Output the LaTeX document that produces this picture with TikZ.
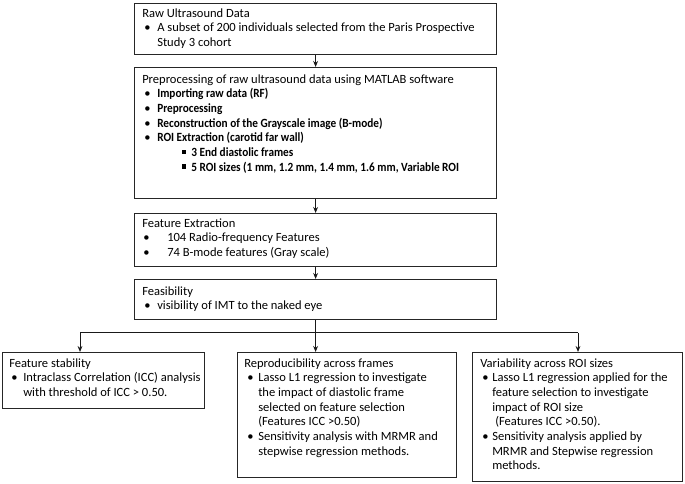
\documentclass[tikz,border=0pt]{standalone}
\usepackage{fontspec}
\setmainfont{Carlito}
\newfontfamily\cbold{Carlito}[FakeStretch=0.9]
\usetikzlibrary{arrows.meta,calc}
\newcommand\itm[2]{\hspace*{#1}\makebox[#2][l]{•}}
\newcommand\sqitm[2]{\hspace*{#1}\makebox[#2][l]{\rule[0.45ex]{0.33em}{0.33em}}}
\newcommand\fl{\rule{0pt}{8pt}}
\tikzset{
  frame/.style={draw=black!85, line width=0.9pt, anchor=north west, inner sep=0pt, rectangle},
  txt/.style={anchor=north west, align=left, inner sep=0pt, font=\fontsize{9.4}{11}\selectfont, yshift=8pt},
  arr/.style={line width=0.75pt, draw=black!90, -{Stealth[length=4.5pt,width=3.6pt]}},
  ln/.style={line width=0.75pt, draw=black!90},
}
\begin{document}
\begin{tikzpicture}[x=0.75pt,y=-0.75pt]
\useasboundingbox (0,0) rectangle (685,484);
% frames
\node[frame, minimum width=362*0.75pt, minimum height=51*0.75pt] (b1) at (134,3) {};
\node[frame, minimum width=362*0.75pt, minimum height=131*0.75pt] (b2) at (134,67) {};
\node[frame, minimum width=362*0.75pt, minimum height=53*0.75pt] (b3) at (134,213) {};
\node[frame, minimum width=362*0.75pt, minimum height=40*0.75pt] (b4) at (134,279) {};
\node[frame, minimum width=202*0.75pt, minimum height=56*0.75pt] (sl) at (2,352) {};
\node[frame, minimum width=219*0.75pt, minimum height=125*0.75pt] (sm) at (237,352) {};
\node[frame, minimum width=210*0.75pt, minimum height=129*0.75pt] (sr) at (472,352) {};
% texts (coordinates = first baseline)
\node[txt] (t1) at (142,17) {\fl Raw Ultrasound Data\\
\itm{1.5pt}{9.75pt}A subset of 200 individuals selected from the Paris Prospective\\
\hspace*{11.25pt}Study 3 cohort};
\node[txt] (t2) at (142,83) {\fl Preprocessing of raw ultrasound data using MATLAB software\\
\itm{1.5pt}{9.75pt}{\cbold\bfseries Importing raw data (RF)}\\
\itm{1.5pt}{9.75pt}{\cbold\bfseries Preprocessing}\\
\itm{1.5pt}{9.75pt}{\cbold\bfseries Reconstruction of the Grayscale image (B-mode)}\\
\itm{1.5pt}{9.75pt}{\cbold\bfseries ROI Extraction (carotid far wall)}\\
\sqitm{30pt}{6.75pt}{\cbold\bfseries 3 End diastolic frames}\\
\sqitm{30pt}{6.75pt}{\cbold\bfseries 5 ROI sizes (1 mm, 1.2 mm, 1.4 mm, 1.6 mm, Variable ROI}};
\node[txt] (t3) at (142,227) {\fl Feature Extraction\\
\itm{0.75pt}{18pt}104 Radio-frequency Features\\
\itm{0.75pt}{18pt}74 B-mode features (Gray scale)};
\node[txt] (t4) at (142,295) {\fl Feasibility\\
\itm{1.5pt}{9.75pt}visibility of IMT to the naked eye};
\node[txt] (t5) at (9,367) {\fl Feature stability\\
\itm{1.5pt}{9pt}Intraclass Correlation (ICC) analysis\\
\hspace*{10.5pt}with threshold of ICC > 0.50.};
\node[txt] (t6) at (244,367) {\fl Reproducibility across frames\\
\itm{2.25pt}{8.25pt}Lasso L1 regression to investigate\\
\hspace*{10.5pt}the impact of diastolic frame\\
\hspace*{10.5pt}selected on feature selection\\
\hspace*{10.5pt}(Features ICC >0.50)\\
\itm{2.25pt}{8.25pt}Sensitivity analysis with MRMR and\\
\hspace*{10.5pt}stepwise regression methods.};
\node[txt] (t7) at (480,367) {\fl Variability across ROI sizes\\
\itm{1.5pt}{7.5pt}Lasso L1 regression applied for the\\
\hspace*{9pt}feature selection to investigate\\
\hspace*{9pt}impact of ROI size\\
\hspace*{11.25pt}(Features ICC >0.50).\\
\itm{1.5pt}{7.5pt}Sensitivity analysis applied by\\
\hspace*{9pt}MRMR and Stepwise regression\\
\hspace*{9pt}methods.};
% connectors
\coordinate (jl) at (80,333);
\coordinate (jr) at (578,333);
\draw[arr] (b1.south) -- (b2.north);
\draw[arr] (b2.south) -- (b3.north);
\draw[arr] (b3.south) -- (b4.south |- b4.north);
\draw[arr] (b4.south) -- (b4.south |- sm.north);
\draw[ln] (jl) -- (jr);
\draw[arr] (jl) -- (jl |- sl.north);
\draw[arr] (jr) -- (jr |- sr.north);
\end{tikzpicture}
\end{document}
